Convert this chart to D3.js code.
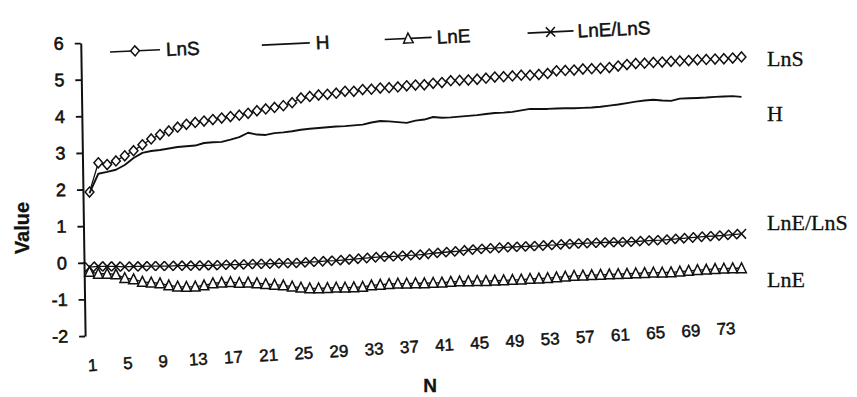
<!DOCTYPE html>
<html>
<head>
<meta charset="utf-8">
<script src="https://cdn.jsdelivr.net/npm/d3@7"></script>
<style>
  html, body { margin: 0; padding: 0; background: #fff; }
  svg { display: block; }
</style>
</head>
<body>
<svg id="chart" width="857" height="397"></svg>
<script>
// Sample index N (x axis categories)
const categories = d3.range(1, 76);
const xTickLabels = [1, 5, 9, 13, 17, 21, 25, 29, 33, 37, 41, 45, 49, 53, 57, 61, 65, 69, 73];
const yTickLabels = [-2, -1, 0, 1, 2, 3, 4, 5, 6];
const seriesNames = ["LnS", "H", "LnE", "LnE/LnS"];

const lnS = [
  1.93, 2.73, 2.68, 2.78, 2.92, 3.06, 3.22, 3.38, 3.50, 3.60,
  3.70, 3.78, 3.83, 3.87, 3.91, 3.95, 3.99, 4.03, 4.08, 4.15,
  4.20, 4.24, 4.29, 4.37, 4.50, 4.54, 4.58, 4.60, 4.63, 4.68,
  4.68, 4.73, 4.74, 4.77, 4.78, 4.80, 4.83, 4.85, 4.86, 4.90,
  4.92, 4.97, 4.98, 4.99, 5.01, 5.04, 5.07, 5.08, 5.10, 5.12,
  5.12, 5.14, 5.17, 5.24, 5.25, 5.26, 5.29, 5.30, 5.31, 5.33,
  5.37, 5.41, 5.44, 5.45, 5.47, 5.48, 5.50, 5.51, 5.52, 5.54,
  5.55, 5.56, 5.57, 5.59, 5.62
];
const hVals = [
  1.90, 2.43, 2.48, 2.54, 2.67, 2.86, 3.00, 3.05, 3.08, 3.12,
  3.16, 3.18, 3.20, 3.27, 3.29, 3.30, 3.36, 3.43, 3.55, 3.50,
  3.49, 3.54, 3.56, 3.59, 3.63, 3.66, 3.68, 3.70, 3.72, 3.73,
  3.75, 3.77, 3.83, 3.87, 3.86, 3.84, 3.82, 3.88, 3.91, 3.98,
  3.96, 3.97, 3.99, 4.01, 4.03, 4.06, 4.09, 4.10, 4.12, 4.16,
  4.20, 4.20, 4.20, 4.21, 4.22, 4.22, 4.23, 4.24, 4.26, 4.29,
  4.32, 4.36, 4.40, 4.43, 4.45, 4.43, 4.42, 4.48, 4.49, 4.50,
  4.51, 4.53, 4.54, 4.55, 4.53
];
const lnE = [
  -0.25, -0.30, -0.30, -0.32, -0.42, -0.45, -0.52, -0.54, -0.56, -0.62,
  -0.65, -0.66, -0.65, -0.62, -0.56, -0.54, -0.53, -0.55, -0.54, -0.56,
  -0.58, -0.60, -0.62, -0.65, -0.68, -0.70, -0.70, -0.69, -0.68, -0.68,
  -0.67, -0.66, -0.62, -0.60, -0.58, -0.57, -0.57, -0.56, -0.56, -0.55,
  -0.54, -0.52, -0.51, -0.51, -0.50, -0.50, -0.49, -0.48, -0.47, -0.46,
  -0.44, -0.43, -0.42, -0.40, -0.38, -0.36, -0.35, -0.34, -0.33, -0.32,
  -0.31, -0.30, -0.29, -0.28, -0.27, -0.27, -0.26, -0.24, -0.22, -0.20,
  -0.19, -0.17, -0.16, -0.15, -0.15
];
const lnERatio = [
  -0.12, -0.10, -0.10, -0.10, -0.11, -0.10, -0.10, -0.09, -0.09, -0.09,
  -0.08, -0.08, -0.08, -0.07, -0.07, -0.06, -0.05, -0.05, -0.04, -0.03,
  -0.03, -0.02, -0.01, -0.01, 0.00, 0.02, 0.03, 0.05, 0.06, 0.08,
  0.10, 0.12, 0.14, 0.16, 0.17, 0.18, 0.20, 0.21, 0.23, 0.26,
  0.28, 0.30, 0.32, 0.35, 0.37, 0.39, 0.40, 0.42, 0.43, 0.44,
  0.45, 0.46, 0.48, 0.49, 0.51, 0.52, 0.53, 0.54, 0.55, 0.56,
  0.56, 0.57, 0.58, 0.60, 0.61, 0.62, 0.64, 0.66, 0.68, 0.70,
  0.72, 0.73, 0.75, 0.77, 0.79
];

const SANS = "'Liberation Sans', Arial, sans-serif";
const SERIF = "'Liberation Serif', 'Times New Roman', serif";
const INK = "#111";

const svg = d3.select("#chart");

const x = d3.scaleLinear().domain([0.5, 75.5]).range([85.1, 745.9]);
const y = d3.scaleLinear().domain([-2, 6]).range([336, 43]);

// Printed-looking text: a thin outline of the same ink thickens the glyphs
function inked(sel, w) {
  return sel.attr("fill", INK).attr("stroke", INK).attr("stroke-width", w).attr("paint-order", "stroke");
}

// Marker shapes
const diamondPath = "M0,-5 L4.4,0 L0,5 L-4.4,0 Z";
const trianglePath = "M0,-5.4 L4.8,4.4 L-4.8,4.4 Z";
const crossPath = "M-4.5,-4.8 L4.5,4.8 M-4.5,4.8 L4.5,-4.8";

const series = [
  { name: seriesNames[0], values: lnS, marker: diamondPath, fill: "#fff", width: 1.3, labelDy: 9 },
  { name: seriesNames[1], values: hVals, marker: null, fill: "none", width: 1.9, labelDy: 24 },
  { name: seriesNames[2], values: lnE, marker: trianglePath, fill: "#fff", width: 1.3, labelDy: 19 },
  { name: seriesNames[3], values: lnERatio, marker: crossPath, fill: "none", width: 1.3, labelDy: -4 }
];

// Y axis (slightly tilted, like the printed figure)
const yAxisG = svg.append("g")
  .attr("transform", "rotate(-0.85, 85.1, 336) translate(85.1, 0)")
  .call(d3.axisLeft(y).tickValues(yTickLabels).tickFormat(d => String(d)).tickSize(6).tickSizeOuter(0).tickPadding(11));
yAxisG.select(".domain").attr("stroke", INK).attr("stroke-width", 2);
yAxisG.selectAll(".tick line").attr("stroke", INK).attr("stroke-width", 1.8);
inked(yAxisG.selectAll(".tick text"), 0.6)
  .style("font-family", SANS)
  .style("font-size", "18px");

// X axis labels only (no axis line), set on a rising slant
const xAxisG = svg.append("g")
  .attr("transform", "rotate(-3.3, 93, 371) translate(0, 359)")
  .call(d3.axisBottom(x).tickValues(xTickLabels).tickFormat(d => String(d)).tickSize(0).tickPadding(0));
xAxisG.select(".domain").remove();
inked(xAxisG.selectAll(".tick text"), 0.5)
  .attr("dx", 3)
  .style("font-family", SANS)
  .style("font-size", "17px");

// Axis titles
inked(svg.append("text"), 0.3)
  .attr("transform", "translate(22, 228) rotate(-90)")
  .attr("text-anchor", "middle")
  .attr("dy", "0.35em")
  .style("font-family", SANS)
  .style("font-weight", "bold")
  .style("font-size", "20px")
  .text("Value");

inked(svg.append("text"), 0.3)
  .attr("x", 430)
  .attr("y", 392)
  .attr("text-anchor", "middle")
  .style("font-family", SANS)
  .style("font-weight", "bold")
  .style("font-size", "19px")
  .text("N");

// Series lines and markers
const line = d3.line()
  .x((d, i) => x(categories[i]))
  .y(d => y(d));

const plot = svg.append("g");
series.forEach(s => {
  const g = plot.append("g");
  g.append("path")
    .datum(s.values)
    .attr("d", line)
    .attr("fill", "none")
    .attr("stroke", INK)
    .attr("stroke-width", s.width)
    .attr("stroke-linejoin", "round");
  if (s.marker) {
    g.selectAll("path.mk")
      .data(s.values)
      .join("path")
      .attr("class", "mk")
      .attr("d", s.marker)
      .attr("transform", (d, i) => `translate(${x(categories[i])},${y(d)})`)
      .attr("fill", s.fill)
      .attr("stroke", INK)
      .attr("stroke-width", 1.5);
  }
});

// End-of-series labels
series.forEach(s => {
  const last = s.values[s.values.length - 1];
  inked(svg.append("text"), 0.3)
    .attr("x", 767)
    .attr("y", y(last) + s.labelDy)
    .style("font-family", SERIF)
    .style("font-size", "22px")
    .text(s.name);
});

// Legend along the top
const legendItems = [
  { s: series[0], x1: 110, x2: 160, tx: 166 },
  { s: series[1], x1: 262, x2: 310, tx: 316 },
  { s: series[2], x1: 385, x2: 432, tx: 437 },
  { s: series[3], x1: 528, x2: 574, tx: 578 }
];
const legend = svg.append("g").attr("transform", "rotate(-2.6, 110, 52)");
legendItems.forEach(it => {
  const ly = 52;
  legend.append("line")
    .attr("x1", it.x1).attr("x2", it.x2)
    .attr("y1", ly).attr("y2", ly)
    .attr("stroke", INK).attr("stroke-width", 1.7);
  if (it.s.marker) {
    legend.append("path")
      .attr("d", it.s.marker)
      .attr("transform", `translate(${(it.x1 + it.x2) / 2},${ly})`)
      .attr("fill", it.s.fill)
      .attr("stroke", INK)
      .attr("stroke-width", 1.5);
  }
  inked(legend.append("text"), 0.5)
    .attr("x", it.tx)
    .attr("y", ly)
    .attr("dy", "0.35em")
    .style("font-family", SANS)
    .style("font-size", "19px")
    .text(it.s.name);
});
</script>
</body>
</html>
